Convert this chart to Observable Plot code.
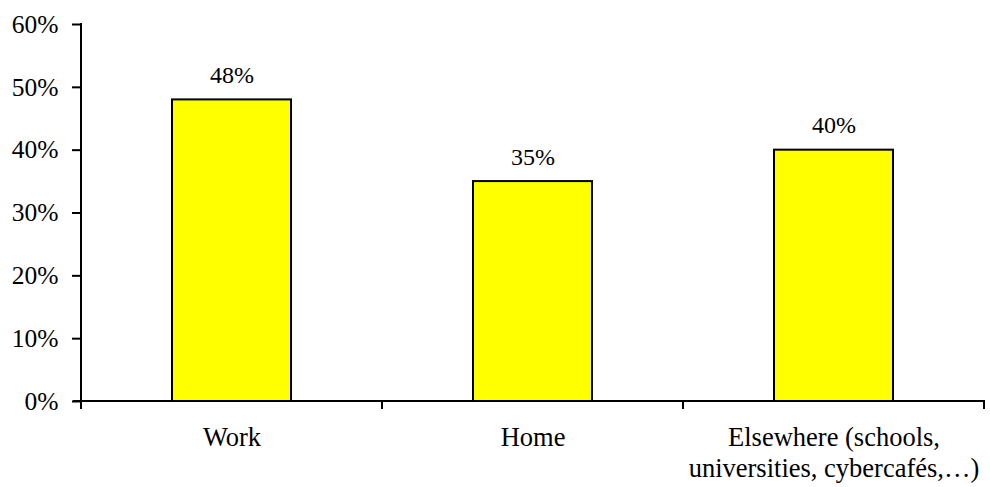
<!DOCTYPE html>
<html>
<head>
<meta charset="utf-8">
<script src="https://cdn.jsdelivr.net/npm/d3@7"></script>
<script src="https://cdn.jsdelivr.net/npm/@observablehq/plot@0.6"></script>
<style>
  html, body { margin: 0; padding: 0; background: #fff; }
  #chart svg, #chart svg text { font-family: "Liberation Serif", "Times New Roman", serif !important; }
</style>
</head>
<body>
<div id="chart"></div>
<script>
// Where people access the internet (share of respondents, %)
const places = ["Work", "Home", "Elsewhere (schools,\nuniversities, cybercafés,…)"];
const shares = [48, 35, 40];
const yTicks = [0, 10, 20, 30, 40, 50, 60];

const data = places.map((place, i) => ({place, share: shares[i]}));

const W = 990, H = 487;
const FONT = "'Liberation Serif', 'Times New Roman', serif";
const barInset = 91;

const plot = Plot.plot({
  width: W,
  height: H,
  marginLeft: 80,
  marginRight: 5,
  marginTop: 24,
  marginBottom: 86,
  style: {fontFamily: FONT, fontSize: "24px", color: "#000", background: "#fff"},
  x: {domain: places, padding: 0, label: null},
  y: {domain: [0, 60], label: null},
  marks: [
    Plot.barY(data, {
      x: "place", y: "share",
      fill: "#ffff00", stroke: "#000", strokeWidth: 2,
      insetLeft: barInset, insetRight: barInset
    }),
    Plot.text(data, {
      x: "place", y: "share", text: d => `${d.share}%`,
      lineAnchor: "bottom", dy: -17, fontSize: 24, fontFamily: FONT, fill: "#000"
    }),
    Plot.axisY({
      ticks: yTicks, tickFormat: d => `${d}%`,
      tickSize: 8, tickPadding: 14, strokeWidth: 2, fontSize: 25.5, fontFamily: FONT
    }),
    Plot.axisX({
      tickSize: 0, tickPadding: 22, lineHeight: 1.18, fontSize: 26.5, fontFamily: FONT
    })
  ]
});

// axis lines and category boundary ticks, positioned via the plot's scales
const x = plot.scale("x"), y = plot.scale("y");
const svg = d3.select(plot);
const y0 = y.apply(0), y60 = y.apply(60);
const left = x.apply(places[0]);
const right = x.apply(places[places.length - 1]) + x.bandwidth;
const g = svg.append("g").attr("stroke", "#000").attr("stroke-width", 2);
g.append("line").attr("x1", left).attr("x2", left).attr("y1", y60 - 1).attr("y2", y0 + 8);
g.append("line").attr("x1", left - 8).attr("x2", right + 1).attr("y1", y0).attr("y2", y0);
const bounds = places.map(p => x.apply(p)).concat([right]);
g.selectAll(".b").data(bounds).join("line")
  .attr("x1", d => d).attr("x2", d => d)
  .attr("y1", y0).attr("y2", y0 + 8);

document.getElementById("chart").appendChild(plot);
</script>
</body>
</html>
